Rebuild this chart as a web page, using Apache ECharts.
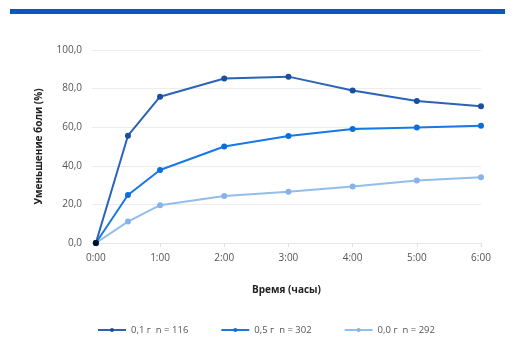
<!DOCTYPE html>
<html>
<head>
<meta charset="utf-8">
<script src="https://cdn.jsdelivr.net/npm/echarts@6/dist/echarts.min.js"></script>
<style>
  html, body { margin: 0; padding: 0; background: #fff; }
  #chart { width: 520px; height: 344px; }
</style>
</head>
<body>
<div id="chart"></div>
<script>
// Time points in hours and pain-reduction values (%) per dose group
const hours = [0, 0.5, 1, 2, 3, 4, 5, 6];
const xTickValues = [0, 1, 2, 3, 4, 5, 6];
const xTickLabels = ['0:00', '1:00', '2:00', '3:00', '4:00', '5:00', '6:00'];
const seriesNames = ['0,1 г  n = 116', '0,5 г  n = 302', '0,0 г  n = 292'];
const dose01 = [0, 55.6, 75.8, 85.2, 86.2, 79.0, 73.6, 70.8];
const dose05 = [0, 24.9, 37.8, 50.0, 55.4, 59.1, 59.9, 60.8];
const dose00 = [0, 11.1, 19.6, 24.4, 26.5, 29.3, 32.4, 34.1];

const lineColors = ['#2b63b6', '#1778e6', '#92bdec'];
const dotColors = ['#1a4f9e', '#0b6ee0', '#86b4ea'];

function pairs(vals) { return hours.map((h, i) => [h, vals[i]]); }

const chart = echarts.init(document.getElementById('chart'), null, { renderer: 'canvas' });
const font = '"Open Sans", Lato, sans-serif';

const series = [dose01, dose05, dose00].map((vals, k) => ({
  name: seriesNames[k],
  type: 'line',
  data: pairs(vals),
  symbol: 'circle',
  symbolSize: 6,
  lineStyle: { color: lineColors[k], width: 2 },
  itemStyle: { color: dotColors[k] },
  z: 3 - k
}));
// origin marker
series.push({
  type: 'scatter',
  data: [[0, 0]],
  symbolSize: 6,
  itemStyle: { color: '#000' },
  z: 10,
  silent: true
});

chart.setOption({
  animation: false,
  backgroundColor: '#fff',
  graphic: [{
    type: 'rect',
    shape: { x: 10, y: 9, width: 495, height: 5 },
    style: { fill: '#0a56c2' }
  }],
  grid: { left: 92, right: 39, top: 50, bottom: 101 },
  xAxis: {
    type: 'value',
    min: -0.06, max: 6,
    name: 'Время (часы)',
    nameLocation: 'middle',
    nameGap: 42,
    nameTextStyle: { fontFamily: font, fontSize: 10, fontWeight: 'bold', color: '#222' },
    axisLine: { show: true, lineStyle: { color: '#e6e6e6' } },
    axisTick: { show: true, length: 4, customValues: xTickValues, lineStyle: { color: '#e0e0e0' } },
    splitLine: { show: false },
    axisLabel: {
      fontFamily: font, fontSize: 10, color: '#555', margin: 10,
      customValues: xTickValues,
      formatter: v => xTickLabels[Math.round(v)]
    }
  },
  yAxis: {
    type: 'value',
    min: 0, max: 100, interval: 20,
    name: 'Уменьшение боли (%)',
    nameLocation: 'middle',
    nameGap: 48,
    nameTextStyle: { fontFamily: font, fontSize: 10, fontWeight: 'bold', color: '#222' },
    axisLine: { show: false },
    axisTick: { show: false },
    splitLine: { lineStyle: { color: '#ececec', width: 1 } },
    axisLabel: {
      fontFamily: font, fontSize: 10, color: '#555', margin: 10,
      formatter: v => v.toFixed(1).replace('.', ',')
    }
  },
  legend: {
    data: seriesNames,
    left: 92, top: 320,
    itemWidth: 28, itemHeight: 5, itemGap: 32,
    textStyle: { fontFamily: font, fontSize: 9.5, color: '#555' }
  },
  series: series
});
</script>
</body>
</html>
